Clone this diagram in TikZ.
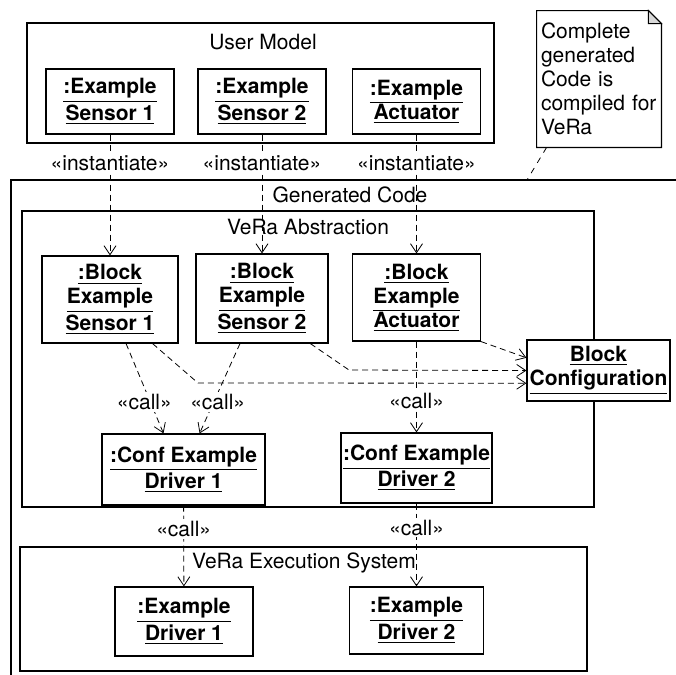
\documentclass[tikz,border=0pt]{standalone}
\usepackage{fontspec}
\setmainfont{TeX Gyre Heros}
\usetikzlibrary{arrows.meta}

\begin{document}
\begin{tikzpicture}[x=0.5pt,y=-0.5pt,font=\fontsize{10.5}{12}\selectfont,
  obj/.style={draw,fill=white,line width=0.6pt,align=center,inner sep=1pt,font=\fontsize{10.5}{12}\selectfont\bfseries},
  pkg/.style={draw,line width=0.6pt},
  dep/.style={line width=0.4pt,dash pattern=on 3pt off 2pt,-{Straight Barb[length=4.5pt,width=6pt]}},
  stereo/.style={fill=white,inner sep=1pt}]
\useasboundingbox (0,0) rectangle (676,675);
% packages
\node[pkg,minimum width=233.5pt,minimum height=60pt](um) at (260.5,83){};
\node(umtitle) at (263,42){User Model};
\draw[pkg] (676,180) -- (11,180) -- (11,675);
\node(gctitle) at (350,195){Generated Code};
\node[pkg,minimum width=286pt,minimum height=148pt](abs) at (308,359){};
\node(abstitle) at (308,227){VeRa Abstraction};
\node[pkg,minimum width=283.5pt,minimum height=62pt](exs) at (303.5,609){};
\node(exstitle) at (304,563){VeRa Execution System};
% note
\node[minimum width=62pt,minimum height=68pt,text width=58pt,align=left,inner sep=2pt](note) at (599,79){Complete\\generated\\Code is\\compiled for\\VeRa};
\draw[line width=0.6pt] (note.south west) -- (note.south east) -- ([yshift=-6.5pt]note.north east)
  -- ([xshift=-6.5pt]note.north east) -- (note.north west) -- cycle;
\filldraw[fill=gray!30,line width=0.5pt] ([xshift=-6.5pt]note.north east) -- ([xshift=-6.5pt,yshift=-6.5pt]note.north east)
  -- ([yshift=-6.5pt]note.north east) -- cycle;
\coordinate(gctop) at (527,180);
\draw[line width=0.4pt,dash pattern=on 3pt off 3pt] ([xshift=5pt]note.south west) -- (gctop);
% objects
\node[obj,minimum width=64pt,minimum height=32.5pt](es1) at (110,101.5){\underline{:Example}\\\underline{Sensor 1}};
\node[obj,minimum width=64pt,minimum height=32.5pt](es2) at (262,101.5){\underline{:Example}\\\underline{Sensor 2}};
\node[obj,minimum width=64pt,minimum height=32.5pt](eact) at (416.5,101.5){\underline{:Example}\\\underline{Actuator}};
\node[obj,minimum width=68pt,minimum height=43.5pt](bs1) at (110,299.5){\underline{:Block}\\\underline{Example}\\\underline{Sensor 1}};
\node[obj,minimum width=66pt,minimum height=44.5pt](bs2) at (262,298.5){\underline{:Block}\\\underline{Example}\\\underline{Sensor 2}};
\node[obj,minimum width=64pt,minimum height=43.5pt](bact) at (416.5,297.5){\underline{:Block}\\\underline{Example}\\\underline{Actuator}};
\node[obj,minimum width=71.5pt,minimum height=30.5pt](bconf) at (598.5,370.5){\underline{Block}\\\underline{Configuration}};
\node[obj,minimum width=81.5pt,minimum height=35.5pt](cd1) at (183.5,469.5){\underline{:Conf Example}\\\underline{Driver 1}};
\node[obj,minimum width=75pt,minimum height=35pt](cd2) at (416.5,468){\underline{:Conf Example}\\\underline{Driver 2}};
\node[obj,minimum width=69pt,minimum height=34.5pt](ed1) at (184,621.5){\underline{:Example}\\\underline{Driver 1}};
\node[obj,minimum width=67pt,minimum height=33.5pt](ed2) at (416.5,620.5){\underline{:Example}\\\underline{Driver 2}};
% dependencies
\draw[dep] (es1) -- node[stereo,pos=0.24]{«instantiate»} (bs1);
\draw[dep] (es2) -- node[stereo,pos=0.24]{«instantiate»} (bs2);
\draw[dep] (eact) -- node[stereo,pos=0.24]{«instantiate»} (bact);
\draw[dep] (bs1.-70) -- node[stereo,pos=0.65,xshift=-3pt]{«call»} (cd1.119);
\draw[dep] (bs2.-116) -- node[stereo,pos=0.65,xshift=2pt]{«call»} (cd1.66);
\draw[dep] (bact) -- node[stereo,pos=0.65]{«call»} (cd2);
\draw[dep] (cd1) -- node[stereo,pos=0.29]{«call»} (ed1);
\draw[dep] (cd2) -- node[stereo,pos=0.29]{«call»} (ed2);
\coordinate(k1) at (198,383);
\coordinate(k2) at (349,370);
\draw[dep] (bs1.-46) -- (k1) -- (bconf.190);
\draw[dep] (bs2.-43) -- (k2) -- (bconf.west);
\draw[dep] (bact.south east) -- (bconf.170);
\end{tikzpicture}
\end{document}
